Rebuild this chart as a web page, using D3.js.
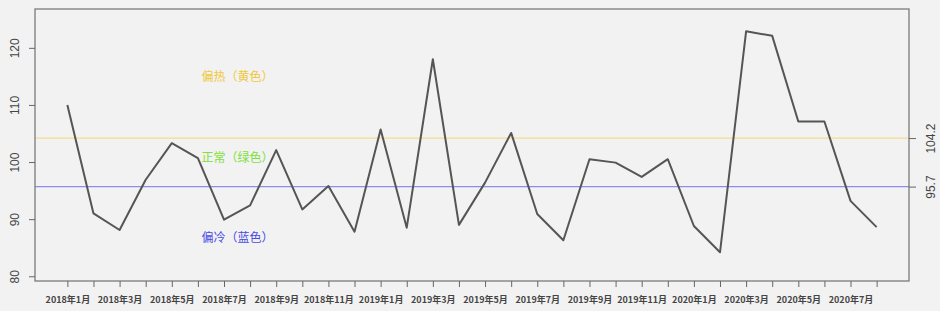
<!DOCTYPE html>
<html>
<head>
<meta charset="utf-8">
<script src="https://cdn.jsdelivr.net/npm/d3@7"></script>
<style>
  body { margin: 0; background: #f2f2f2; }
  svg { display: block; font-family: 'Liberation Sans', 'Noto Sans CJK SC', sans-serif; }
</style>
</head>
<body>
<div id="chart"></div>
<script>
// monthly index values, Jan 2018 - Aug 2020
const months = []
for (let y = 2018; y <= 2020; y++) {
  for (let m = 1; m <= 12; m++) {
    if (y === 2020 && m > 8) break
    months.push(y + '年' + m + '月')
  }
}

const values = [
  110.0, 91.0, 88.1, 96.9, 103.3, 100.7, 89.9, 92.4, 102.1, 91.7, 95.8, 87.8,
  105.7, 88.5, 118.0, 89.0, 96.4, 105.1, 90.9, 86.3, 100.5, 99.9, 97.4, 100.5,
  88.8, 84.2, 122.9, 122.1, 107.1, 107.1, 93.2, 88.6
]

const yTicks = [80, 90, 100, 110, 120]
const refLines = [104.2, 95.7]
const refColors = ['#f2dc8c', '#8c8cf0']

const zoneLabels = ['偏热（黄色）', '正常（绿色）', '偏冷（蓝色）']
const zoneY = [114.9, 100.8, 86.8]
const zoneColors = ['#f0c83c', '#7ee03a', '#4a4ae6']
const zoneX = 7.52

const margin = { top: 9, right: 31, bottom: 30, left: 35 }
const width = 940 - margin.left - margin.right
const height = 311 - margin.top - margin.bottom

const svg = d3
  .select('#chart')
  .append('svg')
  .attr('width', width + margin.left + margin.right)
  .attr('height', height + margin.top + margin.bottom)
  .append('g')
  .attr('transform', 'translate(' + margin.left + ',' + margin.top + ')')

// R style 4% padding around the 1..32 index range
const xPositionScale = d3
  .scaleLinear()
  .domain([1 - 0.04 * 31, 32 + 0.04 * 31])
  .range([0, width])

const yPositionScale = d3
  .scaleLinear()
  .domain([79.17, 126.8])
  .range([height, 0])

// reference lines
svg
  .selectAll('.ref-line')
  .data(refLines)
  .enter()
  .append('line')
  .attr('class', 'ref-line')
  .attr('x1', 0)
  .attr('x2', width)
  .attr('y1', d => yPositionScale(d))
  .attr('y2', d => yPositionScale(d))
  .attr('stroke', (d, i) => refColors[i])
  .attr('stroke-width', 1.3)

// zone labels
svg
  .selectAll('.zone-label')
  .data(zoneLabels)
  .enter()
  .append('text')
  .attr('class', 'zone-label')
  .attr('x', xPositionScale(zoneX))
  .attr('y', (d, i) => yPositionScale(zoneY[i]))
  .attr('dy', '0.35em')
  .attr('text-anchor', 'middle')
  .attr('font-family', "'Noto Sans CJK SC', sans-serif")
  .attr('font-size', 12)
  .attr('fill', (d, i) => zoneColors[i])
  .text(d => d)

// the series
const line = d3
  .line()
  .x((d, i) => xPositionScale(i + 1))
  .y(d => yPositionScale(d))

svg
  .append('path')
  .datum(values)
  .attr('d', line)
  .attr('fill', 'none')
  .attr('stroke', '#555')
  .attr('stroke-width', 2)
  .attr('stroke-linejoin', 'round')

// box
svg
  .append('rect')
  .attr('x', 0)
  .attr('y', 0)
  .attr('width', width)
  .attr('height', height)
  .attr('fill', 'none')
  .attr('stroke', '#7a7a7a')
  .attr('stroke-width', 1.3)

// left axis
const yAxis = d3.axisLeft(yPositionScale).tickValues(yTicks).tickSize(6)
const yG = svg.append('g').attr('class', 'axis y-axis').call(yAxis)
yG.select('.domain').remove()
yG.selectAll('line').attr('stroke', '#666')
yG.selectAll('text')
  .attr('transform', 'rotate(-90)')
  .attr('x', 0)
  .attr('y', -20)
  .attr('dy', '0.35em')
  .attr('text-anchor', 'middle')
  .attr('font-size', 12)
  .attr('fill', '#444')

// right axis with the two reference values
const rAxis = d3.axisRight(yPositionScale).tickValues(refLines).tickFormat(d3.format('.1f')).tickSize(7)
const rG = svg.append('g').attr('class', 'axis r-axis').attr('transform', 'translate(' + width + ',0)').call(rAxis)
rG.select('.domain').remove()
rG.selectAll('line').attr('stroke', '#666')
rG.selectAll('text')
  .attr('transform', 'rotate(-90)')
  .attr('x', 0)
  .attr('y', 22)
  .attr('dy', '0.35em')
  .attr('text-anchor', 'middle')
  .attr('font-size', 12)
  .attr('fill', '#444')

// bottom axis, ticks every month, labels every other month
const xAxis = d3
  .axisBottom(xPositionScale)
  .tickValues(d3.range(1, months.length + 1))
  .tickFormat(d => (d % 2 === 1 ? months[d - 1] : ''))
  .tickSize(6)
  .tickPadding(10)
const xG = svg
  .append('g')
  .attr('class', 'axis x-axis')
  .attr('transform', 'translate(0,' + height + ')')
  .call(xAxis)
xG.select('.domain').remove()
xG.selectAll('line').attr('stroke', '#666')
xG.selectAll('text')
  .attr('font-size', 9)
  .attr('font-weight', 'bold')
  .attr('font-family', "'Noto Sans CJK SC', sans-serif")
  .attr('fill', '#444')
</script>
</body>
</html>
